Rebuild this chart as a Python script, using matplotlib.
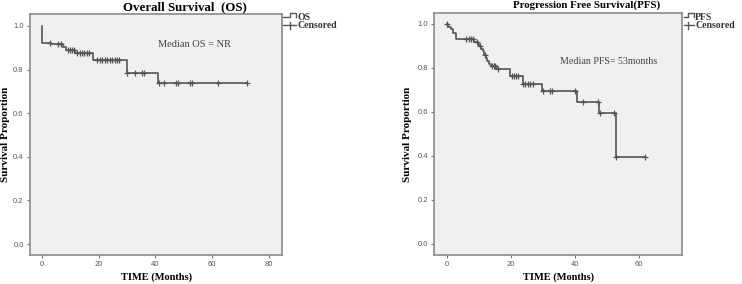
import numpy as np
import matplotlib
matplotlib.use("Agg")
import matplotlib.pyplot as plt
from matplotlib.lines import Line2D

# ── Data ─────────────────────────────────────────────────────────────────────
os_event_t = [0, 3.3, 7.4, 8.6, 11.8, 18.1, 30.1, 41.0]
os_surv    = [0.924, 0.916, 0.905, 0.891, 0.876, 0.842, 0.783, 0.738]
os_cens_t  = [2.7, 5.8, 6.6, 9.1, 9.8, 10.6, 11.3, 12.4, 13.3, 14.1, 14.9,
              15.8, 16.6, 19.3, 20.4, 21.3, 22.2, 23.1, 24.0, 24.9, 25.8,
              26.6, 27.3, 30.1, 33.0, 35.2, 36.0, 41.4, 43.2, 47.3, 48.1,
              52.1, 52.9, 62.2, 72.2]

pfs_event_t = [0.5, 1.2, 1.9, 2.9, 8.4, 9.6, 10.2, 10.7, 11.2, 11.7, 12.3,
               12.6, 13.3, 13.8, 15.6, 19.6, 23.8, 29.9, 40.8, 47.7, 52.9]
pfs_surv    = [0.988, 0.976, 0.958, 0.930, 0.918, 0.909, 0.898, 0.888, 0.876,
               0.858, 0.845, 0.830, 0.818, 0.808, 0.797, 0.765, 0.726, 0.694,
               0.647, 0.597, 0.394]
pfs_cens_t  = [0.2, 5.9, 6.8, 7.5, 8.1, 9.4, 10.4, 12.0, 14.0, 14.6, 15.2,
               16.0, 20.3, 21.0, 21.7, 22.4, 23.9, 24.5, 25.3, 26.0, 26.9,
               30.0, 32.3, 33.0, 40.1, 42.7, 47.1, 47.8, 52.3, 53.0, 62.0]

x_ticks = [0, 20, 40, 60, 80]
y_ticks = [0.0, 0.2, 0.4, 0.6, 0.8, 1.0]

LINE = "#555555"
SERIF = "Liberation Serif"
SANS = "Liberation Sans"

W, H = 742, 284
fig = plt.figure(figsize=(W / 100, H / 100), dpi=100)


def px(x, y):
    """pixel (from top-left) -> figure fraction"""
    return x / W, 1 - y / H


def km_panel(rect, xlim, ylim, ev_t, surv, cens_t, xt):
    ax = fig.add_axes(rect)
    ax.set_facecolor("#f0f0f0")
    t = np.concatenate([[0], ev_t, [max(cens_t)]])
    s = np.concatenate([[1.0], surv, [surv[-1]]])
    ax.step(t, s, where="post", color=LINE, lw=1.2)
    idx = np.searchsorted(ev_t, cens_t, side="right")
    cs = np.concatenate([[1.0], surv])[idx]
    ax.plot(cens_t, cs, ls="none", marker="+", ms=3.8, mew=0.9, color=LINE)
    ax.set_xlim(*xlim)
    ax.set_ylim(*ylim)
    ax.set_xticks(xt)
    ax.set_yticks(y_ticks)
    ax.set_xticklabels([str(v) for v in xt])
    ax.set_yticklabels([f"{v:.1f}" for v in y_ticks])
    ax.tick_params(length=2.5, width=0.8, color="#777777", labelsize=5.5,
                   labelcolor="#555555", pad=2)
    for lab in ax.get_xticklabels() + ax.get_yticklabels():
        lab.set_family(SANS)
    for sp in ax.spines.values():
        sp.set_color("#8a8a8a")
        sp.set_linewidth(1.2)
    return ax


def legend(x0, xs, name):
    # step symbol
    xa, ya = px(x0, 17.3)
    xb, _ = px(xs, 17.3)
    _, yh = px(0, 13.3)
    xc, _ = px(xs + 5.5, 0)
    _, yd = px(0, 16.5)
    fig.add_artist(Line2D([xa, xb, xb, xc, xc], [ya, ya, yh, yh, yd],
                          color=LINE, lw=1.0, transform=fig.transFigure))
    xt, yt = px(xs + 7, 17.5)
    fig.text(xt, yt, name, family=SERIF, weight="bold", fontsize=7,
             va="center", color="#333333")
    # censored symbol
    xa, yc = px(x0, 25)
    xb, _ = px(xs + 5.5, 25)
    xm, _ = px(xs, 0)
    _, y1 = px(0, 21.5)
    _, y2 = px(0, 28.5)
    fig.add_artist(Line2D([xa, xb], [yc, yc], color=LINE, lw=1.0,
                          transform=fig.transFigure))
    fig.add_artist(Line2D([xm, xm], [y1, y2], color=LINE, lw=1.0,
                          transform=fig.transFigure))
    xt, yt = px(xs + 7.5, 26)
    fig.text(xt, yt, "Censored", family=SERIF, weight="bold", fontsize=7,
             va="center", color="#333333")


# ── Overall survival ─────────────────────────────────────────────────────────
ax1 = km_panel([30 / W, 1 - 255 / H, 252 / W, 241 / H], (-4.2, 84.7),
               (-0.05, 1.055), os_event_t, os_surv, os_cens_t, x_ticks)
ax1.text(54, 0.913, "Median OS = NR", family=SERIF, fontsize=7.5,
         color="#444444", ha="center", va="center")
fig.text(*px(185, 7), "Overall Survival  (OS)", family=SERIF, weight="bold",
         fontsize=9.3, ha="center", va="center")
fig.text(*px(6, 134), "Survival Proportion", family=SERIF, weight="bold",
         fontsize=8, rotation=90, ha="center", va="center")
fig.text(*px(156.7, 277), "TIME (Months)", family=SERIF, weight="bold",
         fontsize=7.5, ha="center", va="center")
legend(283, 290, "OS")

# ── Progression free survival ────────────────────────────────────────────────
ax2 = km_panel([434.3 / W, 1 - 255 / H, 248 / W, 242.3 / H], (-3.9, 73.6),
               (-0.05, 1.051), pfs_event_t, pfs_surv, pfs_cens_t, x_ticks[:4])
ax2.text(50.6, 0.829, "Median PFS= 53months", family=SERIF, fontsize=7.2,
         color="#444444", ha="center", va="center")
fig.text(*px(586.7, 5.5), "Progression Free Survival(PFS)", family=SERIF,
         weight="bold", fontsize=7.8, ha="center", va="center")
fig.text(*px(408, 134), "Survival Proportion", family=SERIF, weight="bold",
         fontsize=8, rotation=90, ha="center", va="center")
fig.text(*px(559, 277), "TIME (Months)", family=SERIF, weight="bold",
         fontsize=7.5, ha="center", va="center")
legend(684, 688.3, "PFS")

fig.savefig("out.png", dpi=100, facecolor="white")
